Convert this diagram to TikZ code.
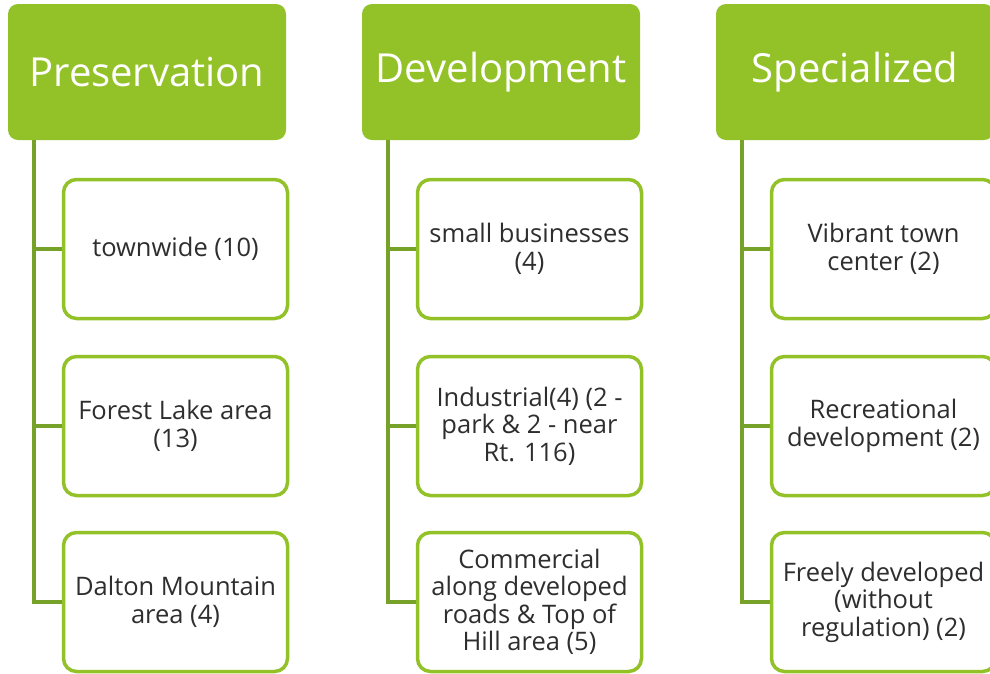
\documentclass[tikz,border=0pt]{standalone}
\usepackage{fontspec}
\setmainfont{Open Sans}
\usepackage{tikz}
\definecolor{leaf}{HTML}{93C228}
\definecolor{stem}{HTML}{76A22A}
\definecolor{ink}{HTML}{2E2E2E}

\begin{document}
\begin{tikzpicture}[x=1pt,y=-1pt,
    head/.style={fill=leaf,rounded corners=10pt,minimum width=278pt,minimum height=136pt,text=white,font=\fontsize{40}{46}\selectfont,inner sep=0pt},
    leafbox/.style={draw=leaf,line width=3.5pt,fill=white,rounded corners=13pt,minimum width=224pt,minimum height=139pt,align=center,text=ink,font=\fontsize{25.5}{27.5}\selectfont,inner sep=0pt},
    spine/.style={stem,line width=3.8pt}]
      \clip (0,0) rectangle (990,673);
      \foreach \k/\t in {0/Preservation,1/Development,2/Specialized}
        \node[head] (h\k) at (147+354*\k,72) {\t};
      % Preservation
      \node[leafbox] (c01) at (175.5,249) {townwide (10)};
      \node[leafbox] (c02) at (175.5,426) {Forest Lake area\\(13)};
      \node[leafbox] (c03) at (175.5,602) {Dalton Mountain\\area (4)};
      % Development
      \node[leafbox] (c11) at (529.5,249) {small businesses\\(4)};
      \node[leafbox] (c12) at (529.5,426) {Industrial(4) (2 -\\park \& 2 - near\\Rt. 116)};
      \node[leafbox] (c13) at (529.5,602) {Commercial\\along developed\\roads \& Top of\\Hill area (5)};
      % Specialized
      \node[leafbox] (c21) at (883.5,249) {Vibrant town\\center (2)};
      \node[leafbox] (c22) at (883.5,426) {Recreational\\development (2)};
      \node[leafbox] (c23) at (883.5,602) {Freely developed\\(without\\regulation) (2)};
      \foreach \k in {0,1,2} {
        \coordinate (s\k) at ([xshift=26pt]h\k.south west);
        \foreach \j in {1,2,3} \draw[spine] (s\k) |- (c\k\j.west);
      }
    \end{tikzpicture}
\end{document}
